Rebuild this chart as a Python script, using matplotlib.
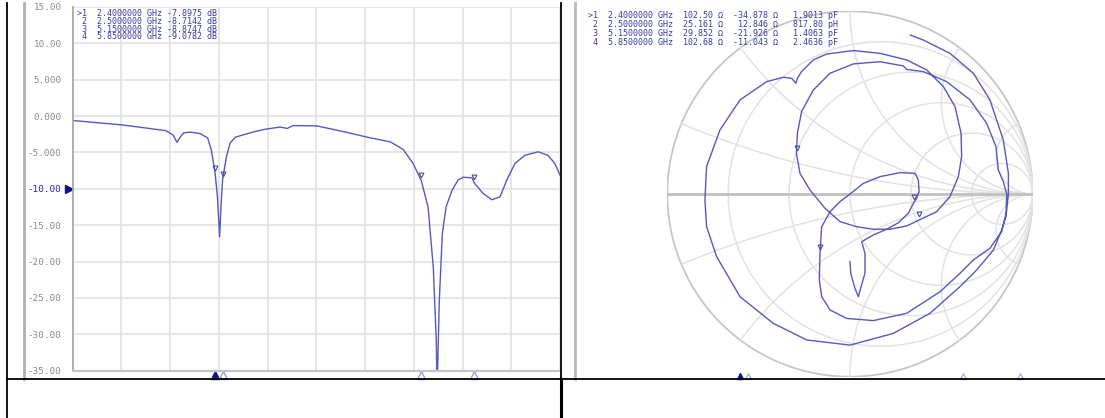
import numpy as np
import matplotlib
matplotlib.use("Agg")
import matplotlib.pyplot as plt
from matplotlib.transforms import blended_transform_factory, offset_copy

W, H = 1105, 418

# S11 log magnitude trace (GHz, dB)
freq_ghz = [0.50, 0.82, 1.15, 1.45, 1.74, 1.84, 1.89, 1.94, 1.98, 2.07, 2.20, 2.30,
            2.35, 2.40, 2.43, 2.46, 2.48, 2.50, 2.55, 2.60, 2.67, 2.80, 2.94, 3.07,
            3.27, 3.36, 3.44, 3.76, 4.14, 4.43, 4.74, 4.91, 5.04, 5.15, 5.24, 5.31,
            5.35, 5.36, 5.39, 5.43, 5.48, 5.56, 5.64, 5.71, 5.83, 5.85, 5.97, 6.09,
            6.20, 6.29, 6.40, 6.53, 6.71, 6.84, 6.93, 7.00]
s11_db = [-0.6, -0.9, -1.2, -1.6, -2.0, -2.6, -3.6, -2.8, -2.3, -2.2, -2.4, -3.0,
          -4.7, -7.9, -11.0, -16.6, -12.0, -8.7, -5.6, -3.7, -2.9, -2.5, -2.1, -1.8,
          -1.5, -1.7, -1.3, -1.35, -2.2, -2.9, -3.55, -4.6, -6.5, -8.87, -12.5, -20.8,
          -30.9, -38.0, -25.4, -16.2, -12.5, -10.2, -8.8, -8.4, -8.5, -9.08, -10.6, -11.5,
          -11.1, -8.8, -6.5, -5.4, -4.9, -5.4, -6.5, -8.1]

# markers
marker_freq = [2.4, 2.5, 5.15, 5.85]
marker_db = [-7.8975, -8.7142, -8.8747, -9.0782]
marker_r = [102.50, 25.161, 29.852, 102.68]
marker_x = [-34.878, 12.846, -21.926, -11.043]
marker_lc = ["1.9013 pF", "817.80 pH", "1.4063 pF", "2.4636 pF"]

y_ticks = [15, 10, 5, 0, -5, -10, -15, -20, -25, -30, -35]
y_tick_labels = ["15.00", "10.00", "5.000", "0.000", "-5.000", "-10.00",
                 "-15.00", "-20.00", "-25.00", "-30.00", "-35.00"]

# Smith chart trace, reflection coefficient
gamma_re = [0.330, 0.401, 0.547, 0.675, 0.766, 0.839, 0.867, 0.867, 0.854, 0.830, 0.785,
            0.693, 0.602, 0.438, 0.237, 0.0, -0.237, -0.420, -0.602, -0.730, -0.785,
            -0.794, -0.785, -0.712, -0.602, -0.456, -0.365, -0.319, -0.296,
            -0.288, -0.265, -0.201, -0.128, 0.018, 0.164, 0.310, 0.420, 0.511, 0.575,
            0.608, 0.611, 0.593, 0.547, 0.474, 0.377,
            0.310, 0.219, 0.128, 0.036, -0.055, -0.137, -0.219, -0.274, -0.293,
            -0.288, -0.265, -0.201, -0.109, 0.018, 0.164, 0.292, 0.310, 0.401, 0.529,
            0.657, 0.748, 0.799, 0.812, 0.839, 0.858,
            0.854, 0.830, 0.766, 0.675, 0.602, 0.493, 0.310, 0.128, -0.018, -0.109,
            -0.155, -0.168, -0.164,
            -0.155, -0.109, -0.055, 0.0, 0.073, 0.164, 0.274, 0.356, 0.374, 0.378,
            0.365, 0.349,
            0.319, 0.265, 0.201, 0.128, 0.064, 0.082, 0.082, 0.058, 0.046, 0.027,
            0.004, 0.0]
gamma_im = [0.870, 0.843, 0.770, 0.661, 0.515, 0.296, 0.113, 0.0, -0.124, -0.197, -0.307,
            -0.416, -0.507, -0.653, -0.763, -0.827, -0.799, -0.708, -0.562, -0.343, -0.179,
            -0.033, 0.150, 0.350, 0.515, 0.615, 0.639, 0.633, 0.606,
            0.633, 0.670, 0.734, 0.766, 0.785, 0.770, 0.734, 0.679, 0.588, 0.478,
            0.332, 0.204, 0.095, -0.015, -0.097, -0.143,
            -0.175, -0.193, -0.193, -0.179, -0.151, -0.078, 0.022, 0.113, 0.221,
            0.332, 0.451, 0.569, 0.661, 0.712, 0.724, 0.701, 0.682, 0.670, 0.615,
            0.515, 0.387, 0.259, 0.131, 0.068, 0.0,
            -0.106, -0.206, -0.297, -0.361, -0.434, -0.535, -0.653, -0.693, -0.681, -0.635,
            -0.562, -0.471, -0.319,
            -0.179, -0.097, -0.042, 0.0, 0.058, 0.095, 0.117, 0.113, 0.077, 0.013,
            -0.024, -0.047,
            -0.106, -0.157, -0.193, -0.224, -0.261, -0.325, -0.434, -0.516, -0.562, -0.516,
            -0.434, -0.370]

smith_r = [0.2, 0.5, 1, 2, 5]
smith_x = [0.2, 0.5, 1, 2, 5]

TRACE = "#5858c0"
TEXT_BLUE = "#3a3aa8"
DARK = "#12128a"
GRID = "#e2e2e2"
MONO = "DejaVu Sans Mono"

fig = plt.figure(figsize=(W / 100, H / 100), dpi=100)
fig.patch.set_facecolor("white")


def box(x0, y0, x1, y1):
    # pixel box (top-left origin) -> figure fraction rect
    return [x0 / W, 1 - y1 / H, (x1 - x0) / W, (y1 - y0) / H]


# ---- left screen: S11 log mag ----
ax = fig.add_axes(box(72.7, 7, 560, 370.7))
ax.set_xlim(0.5, 7.0)
ax.set_ylim(-35, 15)
ax.set_xticks(np.linspace(0.5, 7.0, 11))
ax.set_xticklabels([])
ax.set_yticks(y_ticks)
ax.set_yticklabels(y_tick_labels, family=MONO, fontsize=6.7, color="#8c8c8c")
ax.tick_params(length=0, pad=8)
ax.grid(True, color=GRID, lw=1.2)
ax.set_axisbelow(True)
for side in ["top", "right"]:
    ax.spines[side].set_visible(False)
ax.spines["left"].set_color("#a8a8a8")
ax.spines["left"].set_linewidth(1.3)
ax.spines["bottom"].set_color("#c4c4c4")
ax.spines["bottom"].set_linewidth(1.6)
for lab, v in zip(ax.get_yticklabels(), y_ticks):
    if v == -10:
        lab.set_color("#2626b0")

ax.plot(freq_ghz, s11_db, color=TRACE, lw=1.0, clip_on=True)

mk_tr = offset_copy(ax.transData, fig=fig, x=0, y=4, units="points")
ax.plot(marker_freq, marker_db, ls="none", marker="v", ms=3.5, mfc="none",
        mec="#4a4aa8", mew=0.8, transform=mk_tr)

bt = blended_transform_factory(ax.transData, ax.transAxes)
ax.plot(marker_freq[:1], [-0.013], ls="none", marker="^", ms=6, color=DARK,
        transform=bt, clip_on=False)
ax.plot(marker_freq[1:], [-0.013] * 3, ls="none", marker="^", ms=6, mfc="white",
        mec="#9a9ad6", mew=1, transform=bt, clip_on=False)
rt = blended_transform_factory(ax.transAxes, ax.transData)
ax.plot([-0.007], [-10], ls="none", marker=">", ms=6, color=DARK, transform=rt,
        clip_on=False)

for i in range(4):
    tag = (">" if i == 0 else " ") + str(i + 1)
    line = f"{tag}  {marker_freq[i]:.7f} GHz {marker_db[i]:.4f} dB"
    fig.text(77 / W, 1 - (14 + 7.6 * i) / H, line, family=MONO, fontsize=6,
             color=TEXT_BLUE, va="center", ha="left")

# ---- right screen: Smith chart ----
cx, cy, R = 850, 194, 182.7
sax = fig.add_axes(box(cx - R, cy - R, cx + R, cy + R))
sax.set_xlim(-1, 1)
sax.set_ylim(-1, 1)
sax.axis("off")

t = np.linspace(0, 2 * np.pi, 400)
sax.plot(np.cos(t), np.sin(t), color="#c6c6c6", lw=1.3)
big = np.concatenate([-np.logspace(3, -3, 300), np.logspace(-3, 3, 300)])
for r in smith_r:
    z = r + 1j * big
    g = (z - 1) / (z + 1)
    sax.plot(g.real, g.imag, color=GRID, lw=1.1)
rr = np.concatenate([[0], np.logspace(-3, 3, 400)])
for xv in smith_x:
    for s in (1, -1):
        z = rr + 1j * s * xv
        g = (z - 1) / (z + 1)
        sax.plot(g.real, g.imag, color=GRID, lw=1.1)
sax.plot([-1, 1], [0, 0], color="#c0c0c0", lw=2)

sax.plot(gamma_re, gamma_im, color=TRACE, lw=1.0)

zm = (np.array(marker_r) + 1j * np.array(marker_x)) / 50.0
gm = (zm - 1) / (zm + 1)
mk_s = offset_copy(sax.transData, fig=fig, x=0, y=4, units="points")
sax.plot(gm.real, gm.imag, ls="none", marker="v", ms=3.5, mfc="none",
         mec="#4a4aa8", mew=0.8, transform=mk_s)

for i in range(4):
    tag = (">" if i == 0 else " ") + str(i + 1)
    rs = f"{marker_r[i]:#.5g}"
    xs = f"{marker_x[i]:#.5g}"
    line = f"{tag}  {marker_freq[i]:.7f} GHz  {rs:>6} \u03a9 {xs:>8} \u03a9   {marker_lc[i]}"
    fig.text(588 / W, 1 - (15.7 + 8.9 * i) / H, line, family=MONO, fontsize=6,
             color=TEXT_BLUE, va="center", ha="left")

# frequency marker strip under the Smith chart
strip = fig.add_axes(box(586, 372, 1113, 379))
strip.set_xlim(0.5, 7.0)
strip.set_ylim(0, 1)
strip.axis("off")
strip.plot(marker_freq[:1], [0.45], ls="none", marker="^", ms=5, color=DARK, clip_on=False)
strip.plot(marker_freq[1:], [0.45] * 3, ls="none", marker="^", ms=5, mfc="white",
           mec="#b4b4dc", mew=1, clip_on=False)

# ---- page frame: screenshot edges and table rules ----
frame = fig.add_axes([0, 0, 1, 1], zorder=10)
frame.set_xlim(0, W)
frame.set_ylim(H, 0)
frame.axis("off")
frame.patch.set_alpha(0)
frame.plot([23.5, 23.5], [3, 379], color="#b0b0b0", lw=2)
frame.plot([575, 575], [3, 379], color="#b8b8b8", lw=2)
frame.plot([7.3, 7.3], [3, H], color="black", lw=1.3)
frame.plot([560.7, 560.7], [3, 379], color="black", lw=1.3)
frame.plot([560.7, 560.7], [379, H], color="black", lw=2.2)
frame.plot([7.3, W], [379.3, 379.3], color="black", lw=1.3)

fig.savefig("out.png", dpi=100)
